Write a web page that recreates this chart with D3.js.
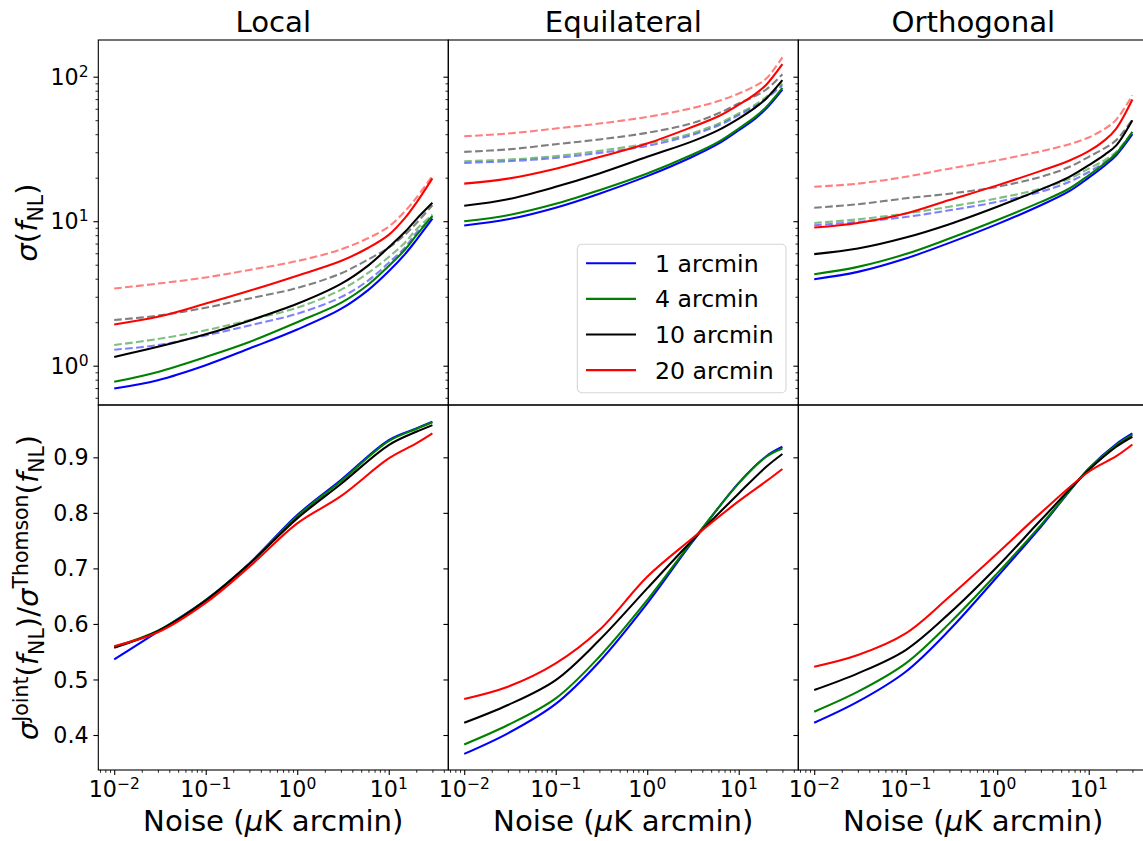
<!DOCTYPE html>
<html><head><meta charset="utf-8">
<script src="https://cdn.jsdelivr.net/npm/d3@7"></script>
<style>
body{margin:0;background:#fff}
text{font-family:"DejaVu Sans",sans-serif;fill:#000}
</style>
</head><body>
<svg id="c" width="1143" height="841" xmlns="http://www.w3.org/2000/svg"></svg>
<script>
// ---------------- data ----------------
const noiseTop = [0.01, 0.03, 0.1, 0.3, 1, 3, 6, 10, 15, 20, 30];
const noiseRatio = [0.01, 0.03, 0.1, 0.3, 1, 3, 10, 20, 30];
const beams = ["1 arcmin", "4 arcmin", "10 arcmin", "20 arcmin"];
const beamColors = ["#0000ff", "#008000", "#000000", "#ff0000"];
const shapes = ["Local", "Equilateral", "Orthogonal"];

// sigma(fNL), joint (solid), per beam 1/4/10/20 arcmin
const localJoint = [
  [0.695, 0.794, 1.008, 1.315, 1.78, 2.47, 3.35, 4.5, 5.9, 7.4, 10.4],
  [0.773, 0.906, 1.15, 1.46, 2.0, 2.72, 3.65, 4.9, 6.34, 7.98, 10.9],
  [1.15, 1.35, 1.65, 2.05, 2.68, 3.68, 4.95, 6.6, 8.41, 10.3, 13.4],
  [1.93, 2.18, 2.69, 3.30, 4.2, 5.3, 6.55, 8.04, 10.5, 13.4, 19.8]
];
// sigma(fNL), Thomson only (dashed)
const localThomson = [
  [1.29, 1.39, 1.62, 1.90, 2.29, 2.98, 3.9, 5.15, 6.56, 8.3, 10.7],
  [1.39, 1.53, 1.76, 2.07, 2.52, 3.35, 4.4, 5.65, 7.1, 8.77, 11.1],
  [2.07, 2.22, 2.52, 2.92, 3.45, 4.35, 5.45, 6.57, 8.05, 9.67, 12.9],
  [3.42, 3.70, 4.08, 4.60, 5.3, 6.38, 7.65, 9.18, 11.7, 14.5, 20.6]
];
const equilJoint = [
  [9.33, 10.3, 12.4, 15.5, 20.5, 27.6, 34.4, 42.6, 51.1, 60.2, 81.5],
  [10.0, 11.0, 13.2, 16.4, 21.4, 28.6, 35.4, 43.8, 52.5, 61.8, 83.8],
  [12.8, 14.2, 17.3, 21.4, 27.9, 35.4, 42.7, 51.3, 60.8, 70.6, 94.6],
  [18.2, 19.7, 23.1, 27.8, 34.5, 44.5, 53.2, 64, 75.5, 88, 122]
];
const equilThomson = [
  [25.3, 26.0, 27.4, 29.7, 33.2, 39.3, 46.0, 54.2, 62.2, 70.6, 87.3],
  [26.0, 26.7, 28.2, 30.7, 34.5, 40.4, 47.3, 55.6, 63.8, 72.5, 89.7],
  [30.2, 31.4, 34.1, 36.8, 40.9, 47.4, 55.8, 65.2, 73.3, 81.5, 104],
  [38.7, 40.4, 43.8, 47.4, 52.7, 60.3, 67.8, 76.5, 86.1, 97, 136]
];
const orthoJoint = [
  [3.97, 4.46, 5.52, 7.08, 9.54, 12.9, 16.0, 20.0, 24.3, 28.6, 40.0],
  [4.30, 4.83, 5.92, 7.59, 10.2, 13.6, 16.7, 20.8, 25.2, 29.4, 41.5],
  [5.92, 6.47, 7.71, 9.54, 12.6, 16.6, 20.1, 24.4, 28.9, 33.5, 50],
  [9.04, 9.73, 11.3, 14.0, 17.7, 22.3, 26.1, 30.5, 36.4, 43.8, 69.5]
];
const orthoThomson = [
  [9.38, 9.89, 10.7, 11.9, 13.6, 16.0, 18.6, 21.9, 25.5, 29.4, 40.4],
  [9.73, 10.3, 11.3, 12.6, 14.4, 16.8, 19.5, 23.1, 26.5, 30.2, 41.5],
  [12.4, 13.1, 14.4, 15.5, 17.3, 20.3, 23.6, 27.9, 32.1, 36.4, 50.5],
  [17.3, 18.2, 20.3, 23.1, 26.4, 30.5, 34.0, 38.0, 43.6, 50.5, 74.5]
];
// ratio sigma^Joint / sigma^Thomson
const localRatio = [
  [0.536, 0.586, 0.643, 0.709, 0.796, 0.859, 0.931, 0.952, 0.964],
  [0.559, 0.588, 0.643, 0.709, 0.794, 0.857, 0.929, 0.951, 0.963],
  [0.557, 0.587, 0.642, 0.708, 0.790, 0.852, 0.922, 0.946, 0.958],
  [0.560, 0.585, 0.638, 0.703, 0.781, 0.830, 0.898, 0.925, 0.943]
];
const equilRatio = [
  [0.366, 0.403, 0.456, 0.532, 0.637, 0.744, 0.854, 0.902, 0.919],
  [0.383, 0.418, 0.466, 0.541, 0.643, 0.746, 0.853, 0.901, 0.916],
  [0.422, 0.454, 0.499, 0.571, 0.664, 0.748, 0.835, 0.883, 0.906],
  [0.465, 0.487, 0.529, 0.589, 0.685, 0.752, 0.821, 0.857, 0.879]
];
const orthoRatio = [
  [0.422, 0.460, 0.514, 0.589, 0.685, 0.775, 0.880, 0.924, 0.943],
  [0.442, 0.478, 0.529, 0.601, 0.691, 0.778, 0.879, 0.922, 0.941],
  [0.481, 0.511, 0.553, 0.619, 0.703, 0.787, 0.877, 0.919, 0.937],
  [0.523, 0.544, 0.583, 0.649, 0.727, 0.800, 0.874, 0.902, 0.923]
];
const xTickExps = [-2, -1, 0, 1];
const yTopTickExps = [0, 1, 2];
const yBottomTicks = [0.4, 0.5, 0.6, 0.7, 0.8, 0.9];

const jointSets = [localJoint, equilJoint, orthoJoint];
const thomsonSets = [localThomson, equilThomson, orthoThomson];
const ratioSets = [localRatio, equilRatio, orthoRatio];

// ---------------- layout ----------------
const svg = d3.select("#c");
const colX = [98.3, 448.3, 798.3], pw = 350;
const rowY = [40, 405], ph = 365;
const TICKF = 22.2, LABF = 29.2, LEGF = 23.6;
const majLen = 4.9, minLen = 2.8;

const lo = Math.log10(d3.min(noiseTop)), hi = Math.log10(d3.max(noiseTop));
const pad = (hi - lo) * 0.05;
const x = d3.scaleLog().domain([10 ** (lo - pad), 10 ** (hi + pad)]).range([0, pw]);
const yTop = d3.scaleLog().domain([10 ** -0.272, 10 ** 2.254]).range([ph, 0]);
const yBot = d3.scaleLinear().domain([0.337, 0.9942]).range([ph, 0]);

function minorLogTicks(scale) {
  const [a, b] = scale.domain();
  const out = [];
  for (let e = Math.floor(Math.log10(a)) - 1; e <= Math.ceil(Math.log10(b)); e++) {
    for (let m = 2; m <= 9; m++) {
      const v = m * 10 ** e;
      if (v >= a && v <= b) out.push(v);
    }
  }
  return out;
}

// rich text helper: segments of {t, it, pos:'sup'|'sub'|undefined}
function richText(sel, segs, F) {
  let cur = 0;
  segs.forEach(s => {
    const target = s.pos === "sup" ? -0.36 * F : s.pos === "sub" ? 0.2 * F : 0;
    sel.append("tspan").text(s.t)
      .attr("dy", (target - cur).toFixed(2))
      .attr("font-size", s.pos ? 0.7 * F : F)
      .attr("font-style", s.it ? "italic" : "normal");
    cur = target;
  });
}

function powLabel(sel, e, F) {
  richText(sel, [{t: "10"}, {t: (e < 0 ? "\u2212" : "") + Math.abs(e), pos: "sup"}], F);
}

const line = (xs, ys, yScale) => d3.line()
  .x((d, i) => x(xs[i]))
  .y(d => yScale(d))
  .curve(d3.curveCatmullRom.alpha(0.5))(ys);

for (let r = 0; r < 2; r++) {
  for (let c = 0; c < 3; c++) {
    const g = svg.append("g").attr("transform", `translate(${colX[c]},${rowY[r]})`);
    const yS = r === 0 ? yTop : yBot;

    // data lines
    if (r === 0) {
      thomsonSets[c].forEach((ys, b) => {
        g.append("path").attr("d", line(noiseTop, ys, yS)).attr("fill", "none")
          .attr("stroke", beamColors[b]).attr("stroke-opacity", 0.5)
          .attr("stroke-width", 2.08).attr("stroke-dasharray", "7.7,3.3");
      });
      jointSets[c].forEach((ys, b) => {
        g.append("path").attr("d", line(noiseTop, ys, yS)).attr("fill", "none")
          .attr("stroke", beamColors[b]).attr("stroke-width", 2.08);
      });
    } else {
      ratioSets[c].forEach((ys, b) => {
        g.append("path").attr("d", line(noiseRatio, ys, yS)).attr("fill", "none")
          .attr("stroke", beamColors[b]).attr("stroke-width", 2.08);
      });
    }

    // y ticks (left, outward)
    const yMajor = r === 0 ? yTopTickExps.map(e => 10 ** e) : yBottomTicks;
    g.append("g").call(d3.axisLeft(yS).tickValues(yMajor).tickSize(majLen).tickFormat(""))
      .call(a => a.select(".domain").remove())
      .selectAll("line").attr("stroke", "#000").attr("stroke-width", 1.1);
    if (r === 0) {
      g.append("g").call(d3.axisLeft(yS).tickValues(minorLogTicks(yS)).tickSize(minLen).tickFormat(""))
        .call(a => a.select(".domain").remove())
        .selectAll("line").attr("stroke", "#000").attr("stroke-width", 0.85);
    }
    // x ticks only on bottom row
    if (r === 1) {
      g.append("g").attr("transform", `translate(0,${ph})`)
        .call(d3.axisBottom(x).tickValues(xTickExps.map(e => 10 ** e)).tickSize(majLen).tickFormat(""))
        .call(a => a.select(".domain").remove())
        .selectAll("line").attr("stroke", "#000").attr("stroke-width", 1.1);
      g.append("g").attr("transform", `translate(0,${ph})`)
        .call(d3.axisBottom(x).tickValues(minorLogTicks(x)).tickSize(minLen).tickFormat(""))
        .call(a => a.select(".domain").remove())
        .selectAll("line").attr("stroke", "#000").attr("stroke-width", 0.85);
      xTickExps.forEach(e => {
        const t = g.append("text").attr("x", x(10 ** e)).attr("y", ph + 26.7)
          .attr("text-anchor", "middle").attr("font-size", TICKF);
        powLabel(t, e, TICKF);
      });
      g.append("text").attr("x", pw / 2).attr("y", ph + 61).attr("text-anchor", "middle")
        .attr("font-size", LABF)
        .call(t => richText(t, [{t: "Noise ("}, {t: "\u03bc", it: true}, {t: "K arcmin)"}], LABF));
    }

    // y tick labels on left column
    if (c === 0) {
      if (r === 0) {
        yTopTickExps.forEach(e => {
          const t = g.append("text").attr("x", -9.7).attr("y", yS(10 ** e) + 8.1)
            .attr("text-anchor", "end").attr("font-size", TICKF);
          powLabel(t, e, TICKF);
        });
      } else {
        yBottomTicks.forEach(v => {
          g.append("text").attr("x", -9.7).attr("y", yS(v) + 8.1)
            .attr("text-anchor", "end").attr("font-size", TICKF).text(d3.format(".1f")(v));
        });
      }
    }

    // frame
    g.append("rect").attr("width", pw).attr("height", ph).attr("fill", "none")
      .attr("stroke", "#000").attr("stroke-width", 1.1);

    if (r === 0) {
      g.append("text").attr("x", pw / 2).attr("y", -8.3).attr("text-anchor", "middle")
        .attr("font-size", LABF).text(shapes[c]);
    }
  }
}

// y axis labels
svg.append("text").attr("transform", `translate(37,${rowY[0] + ph / 2}) rotate(-90)`)
  .attr("text-anchor", "middle").attr("font-size", LABF)
  .call(t => richText(t, [{t: "\u03c3", it: true}, {t: "("}, {t: "f", it: true}, {t: "NL", pos: "sub"}, {t: ")"}], LABF));
svg.append("text").attr("transform", `translate(38,${rowY[1] + ph / 2}) rotate(-90)`)
  .attr("text-anchor", "middle").attr("font-size", LABF)
  .call(t => richText(t, [
    {t: "\u03c3", it: true}, {t: "Joint", pos: "sup"}, {t: "("}, {t: "f", it: true}, {t: "NL", pos: "sub"}, {t: ")/"},
    {t: "\u03c3", it: true}, {t: "Thomson", pos: "sup"}, {t: "("}, {t: "f", it: true}, {t: "NL", pos: "sub"}, {t: ")"}
  ], LABF));

// legend in middle top panel
const lg = svg.append("g").attr("transform", "translate(577.3,244.3)");
lg.append("rect").attr("width", 208.7).attr("height", 148.4).attr("rx", 4.5)
  .attr("fill", "#fff").attr("fill-opacity", 0.8).attr("stroke", "#d6d6d6").attr("stroke-width", 1.1);
beams.forEach((b, i) => {
  const yy = 19 + i * 35.6;
  lg.append("line").attr("x1", 8.7).attr("x2", 58.7).attr("y1", yy).attr("y2", yy)
    .attr("stroke", beamColors[i]).attr("stroke-width", 2.08);
  lg.append("text").attr("x", 77.7).attr("y", yy + 8.5).attr("font-size", LEGF).text(b);
});
</script>
</body></html>
